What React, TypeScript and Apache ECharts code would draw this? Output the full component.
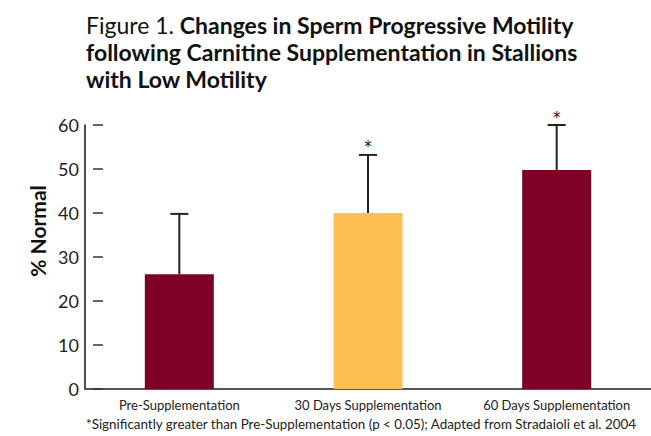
import React, { useEffect, useRef } from "react";
import * as echarts from "echarts";

const categories = ["Pre-Supplementation", "30 Days Supplementation", "60 Days Supplementation"];
const means = [26.1, 40, 49.8];
const upperBounds = [39.8, 53.2, 60];
const significance = ["", "*", "*"];
const barColors = ["#7F0025", "#FDBF50", "#7F0025"];
const yTicks = { min: 0, max: 60, interval: 10 };

const FONT = "Lato, 'Noto Sans', sans-serif";

export default function App() {
  const ref = useRef<HTMLDivElement>(null);
  useEffect(() => {
    if (!ref.current) return;
    const chart = echarts.init(ref.current, undefined, { renderer: "svg" });
    chart.setOption({
      animation: false,
      backgroundColor: "#ffffff",
      textStyle: { fontFamily: FONT },
      title: {
        left: 81,
        top: 6,
        text:
          "{a|Figure 1. }{b|Changes in Sperm Progressive Motility}\n{b|following Carnitine Supplementation in Stallions}\n{b|with Low Motility}",
        textStyle: {
          rich: {
            a: { fontSize: 23, fontWeight: "normal", color: "#111", fontFamily: FONT, lineHeight: 27 },
            b: { fontSize: 23, fontWeight: "bold", color: "#111", fontFamily: FONT, lineHeight: 27 },
          },
        },
      },
      grid: { left: 85, right: 0, top: 125, bottom: 47, containLabel: false },
      xAxis: {
        type: "category",
        data: categories,
        axisLine: { lineStyle: { color: "#555", width: 2 } },
        axisTick: { show: false },
        axisLabel: { fontSize: 13, color: "#222", margin: 9, fontFamily: FONT, interval: 0 },
      },
      yAxis: [
        {
          type: "value",
          min: yTicks.min,
          max: yTicks.max,
          interval: yTicks.interval,
          axisLine: { show: true, lineStyle: { color: "#111", width: 1.5 } },
          axisTick: { show: false },
          splitLine: { show: false },
          axisLabel: { fontSize: 18, color: "#222", margin: 6, fontFamily: FONT },
        },
        {
          type: "value",
          position: "left",
          offset: -8,
          min: yTicks.min,
          max: yTicks.max,
          interval: yTicks.interval,
          axisLine: { show: false },
          axisTick: { show: true, inside: true, length: 10, lineStyle: { color: "#333", width: 1.5 } },
          axisLabel: { show: false },
          splitLine: { show: false },
        },
      ],
      graphic: [
        {
          type: "text",
          x: 37,
          y: 231,
          rotation: Math.PI / 2,
          style: {
            text: "% Normal",
            font: `bold 21px ${FONT}`,
            fill: "#111",
            align: "center",
            verticalAlign: "middle",
          },
        },
        {
          type: "text",
          x: 86,
          y: 424,
          style: {
            text: "*Significantly greater than Pre-Supplementation (p < 0.05); Adapted from Stradaioli et al. 2004",
            font: `13.4px ${FONT}`,
            fill: "#222",
            align: "left",
            verticalAlign: "middle",
          },
        },
      ],
      series: [
        {
          type: "bar",
          barWidth: 69,
          data: means.map((v, i) => ({ value: v, itemStyle: { color: barColors[i] } })),
        },
        {
          type: "custom",
          data: means.map((v, i) => [i, v, upperBounds[i]]),
          renderItem: (params: any, api: any) => {
            const idx = api.value(0);
            const base = api.coord([idx, api.value(1)]);
            const top = api.coord([idx, api.value(2)]);
            const sig = significance[params.dataIndex];
            const children: any[] = [
              {
                type: "line",
                shape: { x1: base[0], y1: base[1], x2: top[0], y2: top[1] },
                style: { stroke: "#222", lineWidth: 2 },
              },
              {
                type: "line",
                shape: { x1: top[0] - 9, y1: top[1], x2: top[0] + 9, y2: top[1] },
                style: { stroke: "#222", lineWidth: 2 },
              },
            ];
            if (sig) {
              children.push({
                type: "text",
                x: top[0],
                y: top[1] - 15,
                style: {
                  text: sig,
                  font: `15px 'DejaVu Sans', sans-serif`,
                  fill: "#111",
                  align: "center",
                  verticalAlign: "top",
                },
              });
            }
            return { type: "group", children };
          },
        },
      ],
    });
    return () => chart.dispose();
  }, []);
  return <div ref={ref} style={{ width: 651, height: 436, position: "absolute", left: 0, top: 0 }} />;
}
